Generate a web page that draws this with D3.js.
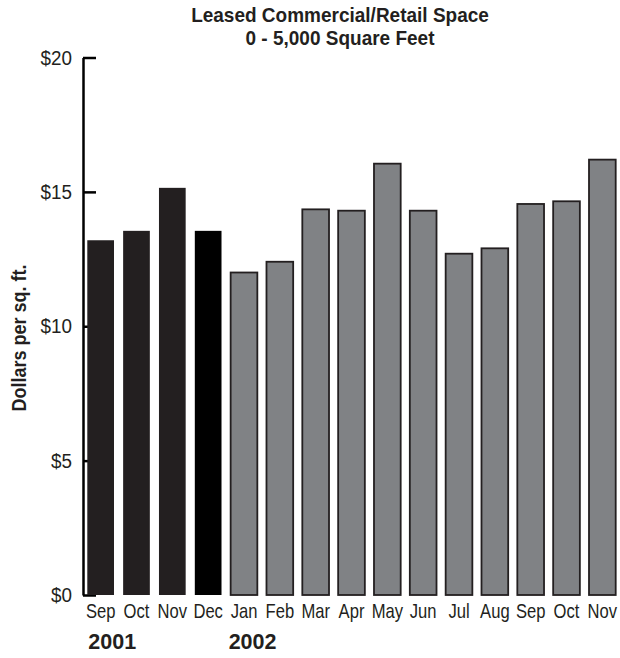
<!DOCTYPE html>
<html><head><meta charset="utf-8">
<script src="https://cdn.jsdelivr.net/npm/d3@7"></script>
<style>body{margin:0;background:#fff}svg{display:block}</style>
</head><body><svg id="c" width="620" height="658"></svg>
<script>
const months = ["Sep","Oct","Nov","Dec","Jan","Feb","Mar","Apr","May","Jun","Jul","Aug","Sep","Oct","Nov"];
const years = ["2001","2001","2001","2001","2002","2002","2002","2002","2002","2002","2002","2002","2002","2002","2002"];
const values = [13.2,13.55,15.15,13.55,12.0,12.4,14.35,14.3,16.05,14.3,12.7,12.9,14.55,14.65,16.2];
const yTicks = [0,5,10,15,20];
const yearLabels = ["2001","2002"];
const yearStart = [0,4];
const titleLines = ["Leased Commercial/Retail Space","0 - 5,000 Square Feet"];
const yTitle = "Dollars per sq. ft.";

const sans = "'Liberation Sans',Arial,Helvetica,sans-serif";
const svg = d3.select("#c");
const m = {left:83, right:620, top:57.5, bottom:595};
const idx = d3.range(values.length);
const x = d3.scaleBand().domain(idx).range([m.left, m.right]).paddingInner(0.255).paddingOuter(0.12);
const y = d3.scaleLinear().domain([0,20]).range([m.bottom, m.top]);

// squeeze text horizontally (about its own anchor point) to mimic a condensed face
function condense(sel, f){
  sel.each(function(){
    const t = d3.select(this);
    const x0 = +t.attr("x") || 0, y0 = +t.attr("y") || 0;
    const prev = t.attr("transform") || "";
    t.attr("transform", `${prev} translate(${x0},${y0}) scale(${f},1) translate(${-x0},${-y0})`);
  });
}

// title
svg.selectAll("text.title").data(titleLines).join("text")
  .attr("class","title")
  .attr("x",340).attr("y",(d,i)=>22+i*23)
  .attr("text-anchor","middle")
  .style("font-family",sans).style("font-weight","bold").style("font-size","20px")
  .attr("fill","#231f20")
  .text(d=>d)
  .call(condense, 0.95);

// y axis
const ya = svg.append("g").attr("transform",`translate(${m.left},0)`)
  .call(d3.axisLeft(y).tickValues(yTicks).tickFormat(d=>"$"+d).tickSize(-13).tickSizeOuter(0).tickPadding(11));
ya.select(".domain").attr("stroke","#000").attr("stroke-width",2.5);
ya.selectAll(".tick line").attr("stroke","#000").attr("stroke-width",2.5);
ya.selectAll(".tick text").style("font-family",sans).style("font-size","20.5px").attr("fill","#231f20")
  .call(condense, 0.92);

// y title
svg.append("text")
  .attr("transform","translate(26,338) rotate(-90)")
  .attr("text-anchor","middle")
  .style("font-family",sans).style("font-weight","bold").style("font-size","20px")
  .attr("fill","#231f20")
  .text(yTitle)
  .call(condense, 0.9);

// bars
svg.append("g").selectAll("rect").data(idx).join("rect")
  .attr("x",i=>x(i))
  .attr("width",x.bandwidth())
  .attr("y",i=>y(values[i]))
  .attr("height",i=>y(0)-y(values[i]))
  .attr("fill",i=> years[i]==="2001" ? (months[i]==="Dec" ? "#000000" : "#231f20") : "#808285")
  .attr("stroke",i=> years[i]==="2001" ? "none" : "#231f20")
  .attr("stroke-width",1.8);

// x axis labels
const xa = svg.append("g").attr("transform",`translate(0,${m.bottom})`)
  .call(d3.axisBottom(x).tickFormat(i=>months[i]).tickSize(0).tickPadding(9));
xa.select(".domain").remove();
xa.selectAll(".tick text").style("font-family",sans).style("font-size","20px").attr("fill","#231f20")
  .call(condense, 0.83);

// year labels
svg.selectAll("text.year").data(yearLabels).join("text")
  .attr("class","year")
  .attr("x",(d,i)=>x(yearStart[i]) + (i===0?1:-2))
  .attr("y",649)
  .style("font-family",sans).style("font-weight","bold").style("font-size","21.5px")
  .attr("fill","#231f20")
  .text(d=>d);
</script></body></html>
